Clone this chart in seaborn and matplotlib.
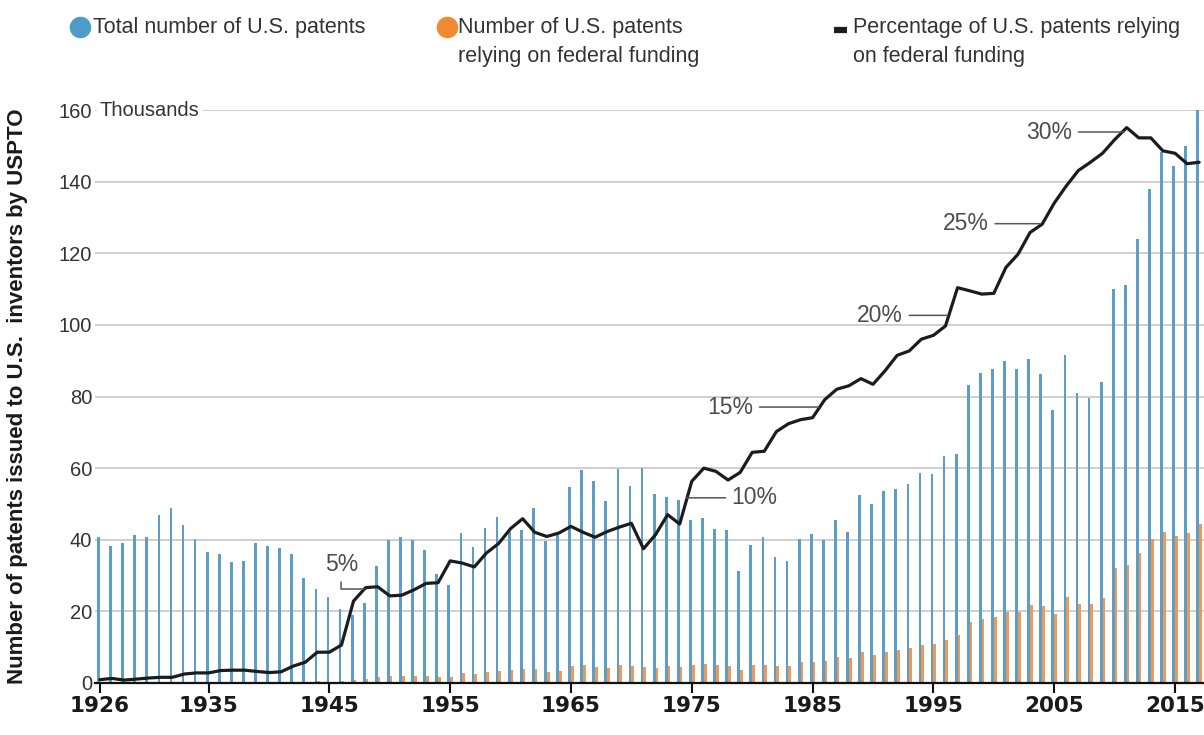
import matplotlib
matplotlib.use("Agg")
import matplotlib.pyplot as plt
import matplotlib.transforms as mtransforms
from matplotlib.lines import Line2D
from matplotlib import font_manager
import pandas as pd
import seaborn as sns

# ---------------- data ----------------
years = list(range(1926, 2018))

total_patents = [
    40.9, 38.3, 39.0, 41.3, 40.9, 47.0, 48.8, 44.1, 40.2, 36.6,
    36.0, 33.8, 34.1, 39.0, 38.3, 37.7, 36.0, 29.4, 26.2, 24.0,
    20.6, 19.0, 22.4, 32.7, 40.0, 40.7, 40.0, 37.2, 30.4, 27.4,
    42.0, 38.1, 43.2, 46.3, 42.1, 42.6, 48.9, 39.7, 41.4, 54.7,
    59.6, 56.4, 50.8, 59.8, 54.9, 60.0, 52.8, 51.9, 51.0, 45.6,
    46.0, 43.0, 42.8, 31.2, 38.6, 40.7, 35.3, 34.2, 40.2, 41.6,
    40.0, 45.6, 42.3, 52.5, 50.0, 53.7, 54.3, 55.5, 58.5, 58.3,
    63.4, 63.9, 83.2, 86.7, 87.6, 90.0, 87.6, 90.4, 86.4, 76.3,
    91.6, 80.9, 79.6, 84.1, 110.0, 111.1, 124.0, 137.9, 148.2, 144.4,
    150.0, 160.0,
]

federal_patents = [
    0.07, 0.10, 0.06, 0.09, 0.11, 0.15, 0.15, 0.20, 0.22, 0.20,
    0.25, 0.24, 0.24, 0.25, 0.22, 0.23, 0.33, 0.33, 0.44, 0.40,
    0.43, 0.85, 1.2, 1.7, 1.9, 1.95, 2.0, 2.0, 1.65, 1.8,
    2.7, 2.4, 3.0, 3.4, 3.5, 3.8, 4.0, 3.2, 3.4, 4.7,
    4.9, 4.5, 4.2, 5.1, 4.8, 4.4, 4.3, 4.8, 4.4, 5.0,
    5.4, 5.0, 4.7, 3.6, 4.9, 5.1, 4.8, 4.8, 5.8, 6.0,
    6.2, 7.3, 6.9, 8.6, 7.8, 8.7, 9.3, 9.8, 10.6, 10.9,
    12.1, 13.4, 17.1, 18.0, 18.3, 19.9, 19.9, 21.8, 21.4, 19.3,
    24.1, 22.0, 22.0, 23.6, 32.2, 32.9, 36.4, 40.2, 42.3, 41.0,
    41.8, 44.5,
]

federal_pct = [
    0.18, 0.25, 0.16, 0.21, 0.27, 0.31, 0.31, 0.49, 0.55, 0.55,
    0.68, 0.70, 0.70, 0.63, 0.57, 0.61, 0.92, 1.13, 1.68, 1.68,
    2.07, 4.47, 5.20, 5.25, 4.75, 4.79, 5.08, 5.43, 5.47, 6.66,
    6.54, 6.33, 7.09, 7.60, 8.42, 8.96, 8.22, 7.99, 8.18, 8.54,
    8.22, 7.95, 8.26, 8.50, 8.71, 7.32, 8.09, 9.18, 8.67, 11.00,
    11.72, 11.54, 11.07, 11.48, 12.58, 12.64, 13.71, 14.14, 14.36, 14.47,
    15.45, 16.02, 16.21, 16.60, 16.29, 17.03, 17.87, 18.11, 18.75, 18.96,
    19.47, 21.56, 21.39, 21.21, 21.25, 22.66, 23.38, 24.57, 25.02, 26.17,
    27.11, 27.95, 28.40, 28.89, 29.63, 30.29, 29.73, 29.73, 29.02, 28.89,
    28.32, 28.40,
]

x_ticks = [1926, 1935, 1945, 1955, 1965, 1975, 1985, 1995, 2005, 2015]
y_ticks = [0, 20, 40, 60, 80, 100, 120, 140, 160]
pct_levels = [5, 10, 15, 20, 25, 30]
legend_labels = [
    "Total number of U.S. patents",
    "Number of U.S. patents\nrelying on federal funding",
    "Percentage of U.S. patents relying\non federal funding",
]
y_label = "Number of patents issued to U.S.  inventors by USPTO"
unit_label = "Thousands"

# ---------------- style ----------------
BLUE = "#5d9ec6"
ORANGE = "#ec9a5c"
BLUE_DOT = "#4c9cc8"
ORANGE_DOT = "#f28a32"
LINE = "#1c1c1c"
GRID = "#cccccc"
TEXT = "#333333"
ANNO = "#4d4d4d"

sns.set_theme(style="white")
available = {f.name for f in font_manager.fontManager.ttflist}
NARROW = "Liberation Sans Narrow" if "Liberation Sans Narrow" in available else "Liberation Sans"
plt.rcParams["font.family"] = ["Liberation Sans", "DejaVu Sans"]

W, H = 1204, 735
fig = plt.figure(figsize=(W / 100, H / 100), dpi=100)
fig.patch.set_facecolor("white")
L, R, T, B = 95, 1204, 110, 683
ax = fig.add_axes([L / W, 1 - B / H, (R - L) / W, (B - T) / H])
ax.set_facecolor("white")

df = pd.DataFrame({
    "Year": years * 2,
    "Patents": total_patents + federal_patents,
    "Series": ["total"] * len(years) + ["federal"] * len(years),
})

sns.barplot(
    data=df, x="Year", y="Patents", hue="Series",
    hue_order=["total", "federal"],
    palette={"total": BLUE, "federal": ORANGE},
    native_scale=True, dodge=True, width=0.45, gap=0,
    saturation=1, linewidth=0, errorbar=None, legend=False,
    ax=ax, zorder=2,
)

ax.set_xlim(1925.6, 2017.4)
ax.set_ylim(0, 160)
ax.set_axisbelow(True)
ax.yaxis.grid(True, color=GRID, linewidth=1.3)
ax.xaxis.grid(False)
for s in ["left", "right", "top"]:
    ax.spines[s].set_visible(False)
ax.spines["bottom"].set_color("#111111")
ax.spines["bottom"].set_linewidth(1.6)
ax.spines["bottom"].set_zorder(4)

ax.set_xticks(x_ticks)
ax.set_xticklabels([str(v) for v in x_ticks], fontfamily="DejaVu Sans",
                   fontweight="bold", fontsize=15.5, color="#1a1a1a")
ax.tick_params(axis="x", bottom=True, direction="out", length=7, width=1.5,
               color="#111111", pad=2)
ax.set_yticks(y_ticks)
ax.set_yticklabels([str(v) for v in y_ticks], fontsize=14.5, color=TEXT)
ax.tick_params(axis="y", left=False, length=0, pad=2)
ax.set_xlabel("")
ax.set_ylabel(y_label, fontfamily=NARROW, fontweight="bold", fontsize=16,
              color="#1a1a1a")
ax.yaxis.set_label_coords((28 - L) / (R - L), 0.5)

# "Thousands" unit next to the top tick label
trans = mtransforms.blended_transform_factory(ax.transAxes, ax.transData)
ax.text((100 - L) / (R - L), y_ticks[-1], unit_label, transform=trans,
        ha="left", va="center", fontsize=14.5, color=TEXT, zorder=5,
        bbox=dict(facecolor="white", edgecolor="none", pad=2))

# ---------------- percentage line ----------------
ax2 = ax.twinx()
sns.lineplot(x=years, y=federal_pct, ax=ax2, color=LINE, linewidth=2.3,
             zorder=3)
ax2.set_ylim(0, 160 / 5.12)
ax2.set_xlim(ax.get_xlim())
ax2.set_axis_off()

anno_kw = dict(fontsize=16.5, color=ANNO, ha="center", va="center",
               textcoords="data", xycoords="data")
line_kw = dict(arrowstyle="-", color="#555555", lw=1.1, shrinkB=0, shrinkA=2)

# 5% (L-shaped leader)
ax2.annotate(f"{pct_levels[0]}%", xy=(1947.86, pct_levels[0] + 0.1),
             xytext=(1946.0, 6.45),
             arrowprops=dict(**line_kw, relpos=(0.5, 0),
                             connectionstyle="angle,angleA=90,angleB=0,rad=0"),
             **anno_kw)
# 10% (text on right)
ax2.annotate(f"{pct_levels[1]}%", xy=(1974.6, pct_levels[1] + 0.1),
             xytext=(1980.2, pct_levels[1] + 0.1),
             arrowprops=dict(**line_kw, relpos=(0, 0.5)), **anno_kw)
# 15%..30% (text on left)
for lvl, tx, lx in zip(pct_levels[2:], [1978.2, 1990.6, 1997.7, 2004.6],
                       [1985.5, 1996.2, 2003.8, 2010.8]):
    ax2.annotate(f"{lvl}%", xy=(lx, lvl + 0.05), xytext=(tx, lvl + 0.05),
                 arrowprops=dict(**line_kw, relpos=(1, 0.5)), **anno_kw)

# ---------------- legend (top) ----------------
def fx(px):
    return px / W


def fy(py):
    return 1 - py / H


leg_fs = 15.5
fig.add_artist(Line2D([fx(80)], [fy(27)], marker="o", markersize=14.5,
                      color=BLUE_DOT, linestyle="none",
                      transform=fig.transFigure))
fig.text(fx(93), fy(27), legend_labels[0], ha="left", va="center",
         fontsize=leg_fs, color=TEXT)
fig.add_artist(Line2D([fx(447)], [fy(27)], marker="o", markersize=14.5,
                      color=ORANGE_DOT, linestyle="none",
                      transform=fig.transFigure))
fig.text(fx(458), fy(42), legend_labels[1], ha="left", va="center",
         fontsize=leg_fs, color=TEXT, linespacing=1.45)
fig.add_artist(Line2D([fx(834), fx(847)], [fy(30), fy(30)], lw=4.5,
                      color=LINE, solid_capstyle="butt",
                      transform=fig.transFigure))
fig.text(fx(853), fy(42), legend_labels[2], ha="left", va="center",
         fontsize=leg_fs, color=TEXT, linespacing=1.45)

fig.savefig("out.png", dpi=100, facecolor="white")
